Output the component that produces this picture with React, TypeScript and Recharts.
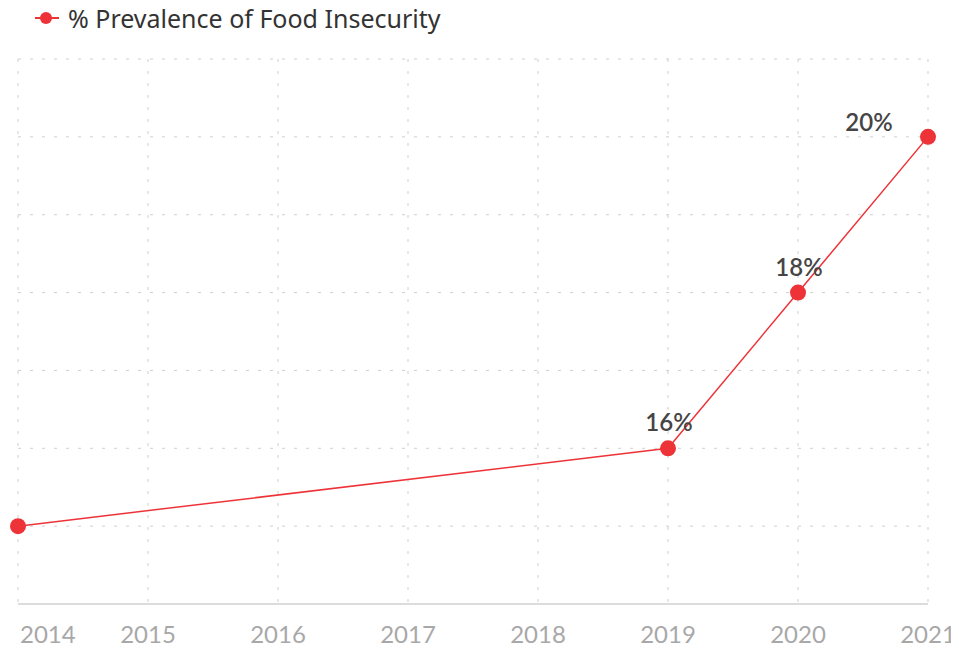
import { LineChart, Line, XAxis, YAxis, CartesianGrid, LabelList } from 'recharts';

const years = [2014, 2019, 2020, 2021];
const prevalence = [15, 16, 18, 20];
const yearTicks = [2014, 2015, 2016, 2017, 2018, 2019, 2020, 2021];
const pctTicks = [14, 15, 16, 17, 18, 19, 20, 21];

const RED = '#ee3338';

const data = years.map((year, i) => ({ year, value: prevalence[i] }));

const YearTick = (props: any) => {
  const { x, y, payload, index } = props;
  const first = index === 0;
  return (
    <text
      x={first ? x + 2 : x}
      y={y + 31}
      textAnchor={first ? 'start' : 'middle'}
      fill="#a8a8a8"
      fontSize={24}
      fontFamily="Lato, sans-serif"
    >
      {payload.value}
    </text>
  );
};

const PointLabel = (props: any) => {
  const { x, y, value, index } = props;
  if (index === 0) return null;
  const last = index === data.length - 1;
  return (
    <text
      x={last ? x - 59 : x + 1}
      y={last ? y - 6 : y - 17}
      textAnchor="middle"
      fill="#454545"
      fontSize={24}
      fontWeight={600}
      fontFamily="Lato, sans-serif"
    >
      {value}%
    </text>
  );
};

export default function App() {
  return (
    <div style={{ position: 'relative', width: 951, height: 640 }}>
      <div
        style={{
          position: 'absolute',
          top: -2,
          left: 26,
          display: 'flex',
          alignItems: 'center',
          height: 24,
          fontFamily: '"Noto Sans", sans-serif',
          fontSize: 25,
          color: '#333',
        }}
      >
        <svg width={26} height={16} style={{ marginRight: 8 }}>
          <line x1={1} y1={8} x2={25} y2={8} stroke={RED} strokeWidth={2} />
          <circle cx={12} cy={8} r={6} fill={RED} />
        </svg>
        <span>% Prevalence of Food Insecurity</span>
      </div>
      <LineChart width={951} height={640} data={data} margin={{ top: 51, right: 31, bottom: 0, left: 10 }}>
        <CartesianGrid stroke="#cfcfcf" strokeDasharray="3 9" />
        <XAxis
          dataKey="year"
          type="number"
          domain={[2014, 2021]}
          ticks={yearTicks}
          interval={0}
          height={44}
          axisLine={{ stroke: '#dcdcdc', strokeWidth: 2 }}
          tickLine={false}
          tick={<YearTick />}
        />
        <YAxis hide domain={[14, 21]} ticks={pctTicks} />
        <Line
          dataKey="value"
          stroke={RED}
          strokeWidth={1.5}
          dot={{ r: 8, fill: RED, stroke: 'none' }}
          activeDot={false}
          isAnimationActive={false}
        >
          <LabelList dataKey="value" content={<PointLabel />} />
        </Line>
      </LineChart>
    </div>
  );
}
